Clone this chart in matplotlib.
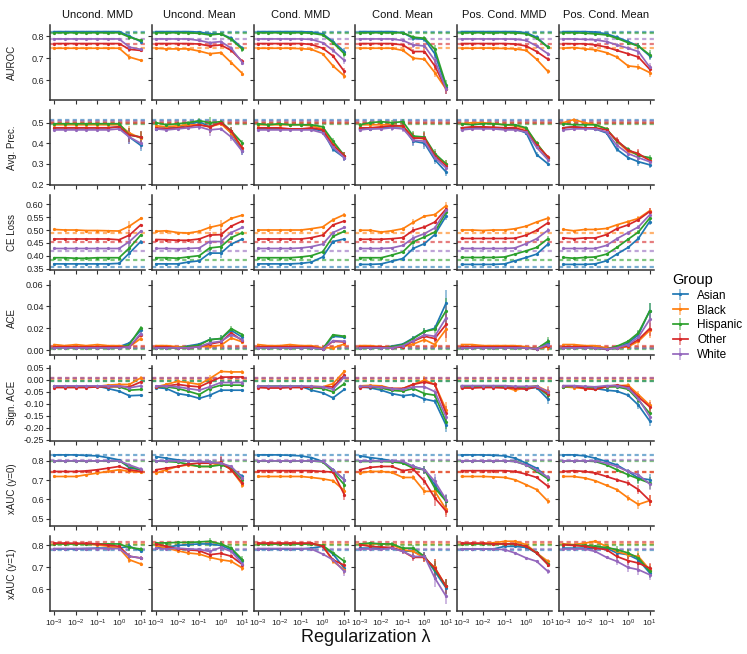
import matplotlib
matplotlib.use("Agg")
import matplotlib.pyplot as plt
from matplotlib.colors import to_rgba

plt.rcParams['font.family'] = ['Liberation Sans', 'DejaVu Sans']
plt.rcParams['mathtext.fontset'] = 'custom'
plt.rcParams['mathtext.rm'] = 'Liberation Sans'
plt.rcParams['mathtext.it'] = 'Liberation Sans:italic'

# ---------------- data ----------------
LAMBDAS = [0.001, 0.003, 0.01, 0.03, 0.1, 0.3, 1, 3, 10]
METHODS = ['Uncond. MMD', 'Uncond. Mean', 'Cond. MMD', 'Cond. Mean',
           'Pos. Cond. MMD', 'Pos. Cond. Mean']
GROUPS = ['Asian', 'Black', 'Hispanic', 'Other', 'White']
METRICS = ['AUROC', 'Avg. Prec.', 'CE Loss', 'ACE', 'Sign. ACE',
           'xAUC (y=0)', 'xAUC (y=1)']

# AUROC
AUROC_ASIAN = [
    [0.820, 0.820, 0.820, 0.820, 0.820, 0.820, 0.820, 0.800, 0.775],
    [0.820, 0.820, 0.820, 0.820, 0.818, 0.810, 0.810, 0.790, 0.745],
    [0.820, 0.820, 0.820, 0.820, 0.820, 0.818, 0.810, 0.775, 0.730],
    [0.820, 0.820, 0.820, 0.820, 0.815, 0.790, 0.785, 0.720, 0.570],
    [0.820, 0.820, 0.820, 0.820, 0.820, 0.820, 0.815, 0.795, 0.750],
    [0.820, 0.820, 0.820, 0.818, 0.810, 0.795, 0.775, 0.755, 0.710]]
AUROC_BLACK = [
    [0.745, 0.745, 0.745, 0.745, 0.745, 0.745, 0.745, 0.705, 0.690],
    [0.745, 0.742, 0.742, 0.742, 0.732, 0.720, 0.725, 0.680, 0.630],
    [0.745, 0.745, 0.745, 0.745, 0.743, 0.740, 0.720, 0.665, 0.620],
    [0.745, 0.745, 0.745, 0.745, 0.735, 0.700, 0.695, 0.635, 0.560],
    [0.745, 0.745, 0.746, 0.745, 0.744, 0.742, 0.735, 0.695, 0.640],
    [0.745, 0.748, 0.742, 0.738, 0.725, 0.705, 0.665, 0.660, 0.635]]
AUROC_HISP = [
    [0.815, 0.815, 0.815, 0.815, 0.815, 0.815, 0.815, 0.795, 0.780],
    [0.815, 0.815, 0.815, 0.815, 0.812, 0.805, 0.810, 0.785, 0.740],
    [0.815, 0.815, 0.815, 0.815, 0.815, 0.813, 0.805, 0.770, 0.720],
    [0.815, 0.815, 0.815, 0.815, 0.815, 0.795, 0.790, 0.740, 0.580],
    [0.815, 0.815, 0.815, 0.815, 0.815, 0.815, 0.810, 0.790, 0.750],
    [0.815, 0.815, 0.813, 0.810, 0.805, 0.790, 0.770, 0.755, 0.715]]
AUROC_OTHER = [
    [0.766, 0.766, 0.766, 0.766, 0.766, 0.766, 0.766, 0.740, 0.735],
    [0.766, 0.766, 0.766, 0.766, 0.764, 0.755, 0.760, 0.735, 0.685],
    [0.766, 0.766, 0.766, 0.766, 0.766, 0.762, 0.745, 0.710, 0.640],
    [0.766, 0.766, 0.766, 0.766, 0.760, 0.730, 0.730, 0.665, 0.560],
    [0.766, 0.766, 0.766, 0.766, 0.766, 0.764, 0.755, 0.730, 0.695],
    [0.766, 0.765, 0.765, 0.760, 0.750, 0.735, 0.720, 0.705, 0.650]]
AUROC_WHITE = [
    [0.787, 0.787, 0.787, 0.787, 0.787, 0.787, 0.787, 0.750, 0.740],
    [0.787, 0.787, 0.787, 0.787, 0.780, 0.770, 0.775, 0.745, 0.680],
    [0.787, 0.787, 0.787, 0.787, 0.787, 0.785, 0.770, 0.735, 0.690],
    [0.787, 0.787, 0.787, 0.787, 0.780, 0.760, 0.755, 0.690, 0.560],
    [0.787, 0.787, 0.787, 0.787, 0.787, 0.786, 0.780, 0.755, 0.720],
    [0.787, 0.787, 0.785, 0.783, 0.775, 0.760, 0.745, 0.730, 0.660]]
AUROC_ERR = [
    [0.002, 0.002, 0.002, 0.002, 0.002, 0.002, 0.003, 0.012, 0.008],
    [0.002, 0.002, 0.002, 0.002, 0.004, 0.008, 0.006, 0.010, 0.012],
    [0.002, 0.002, 0.002, 0.002, 0.002, 0.003, 0.005, 0.010, 0.015],
    [0.002, 0.002, 0.002, 0.003, 0.005, 0.012, 0.010, 0.020, 0.020],
    [0.002, 0.002, 0.002, 0.002, 0.002, 0.003, 0.004, 0.008, 0.010],
    [0.002, 0.002, 0.002, 0.003, 0.005, 0.008, 0.010, 0.015, 0.020]]
AUROC_REF = [0.820, 0.745, 0.815, 0.766, 0.787]

# Average precision
AP_ASIAN = [
    [0.475, 0.475, 0.475, 0.475, 0.475, 0.475, 0.480, 0.430, 0.390],
    [0.470, 0.475, 0.475, 0.490, 0.505, 0.480, 0.500, 0.450, 0.360],
    [0.475, 0.470, 0.470, 0.470, 0.470, 0.470, 0.460, 0.370, 0.330],
    [0.470, 0.470, 0.475, 0.480, 0.480, 0.410, 0.400, 0.320, 0.260],
    [0.475, 0.475, 0.475, 0.475, 0.475, 0.470, 0.450, 0.345, 0.300],
    [0.475, 0.480, 0.475, 0.470, 0.450, 0.370, 0.330, 0.310, 0.295]]
AP_BLACK = [
    [0.490, 0.490, 0.490, 0.490, 0.490, 0.490, 0.490, 0.450, 0.425],
    [0.485, 0.480, 0.485, 0.490, 0.490, 0.480, 0.495, 0.450, 0.375],
    [0.490, 0.490, 0.490, 0.490, 0.490, 0.485, 0.470, 0.400, 0.340],
    [0.490, 0.490, 0.490, 0.490, 0.480, 0.430, 0.420, 0.340, 0.300],
    [0.495, 0.500, 0.500, 0.495, 0.490, 0.485, 0.470, 0.400, 0.330],
    [0.500, 0.515, 0.500, 0.490, 0.470, 0.410, 0.360, 0.345, 0.320]]
AP_HISP = [
    [0.495, 0.495, 0.495, 0.495, 0.495, 0.495, 0.495, 0.440, 0.430],
    [0.500, 0.490, 0.495, 0.500, 0.510, 0.500, 0.505, 0.460, 0.400],
    [0.495, 0.490, 0.495, 0.490, 0.490, 0.490, 0.480, 0.410, 0.340],
    [0.490, 0.500, 0.505, 0.500, 0.505, 0.435, 0.430, 0.350, 0.300],
    [0.495, 0.490, 0.495, 0.495, 0.490, 0.490, 0.475, 0.400, 0.330],
    [0.495, 0.490, 0.490, 0.490, 0.470, 0.410, 0.370, 0.340, 0.330]]
AP_OTHER = [
    [0.475, 0.475, 0.475, 0.475, 0.475, 0.475, 0.480, 0.440, 0.430],
    [0.475, 0.470, 0.475, 0.480, 0.490, 0.480, 0.500, 0.460, 0.375],
    [0.475, 0.475, 0.475, 0.470, 0.470, 0.475, 0.465, 0.390, 0.340],
    [0.475, 0.475, 0.480, 0.485, 0.485, 0.425, 0.425, 0.340, 0.290],
    [0.475, 0.480, 0.480, 0.478, 0.475, 0.475, 0.460, 0.390, 0.335],
    [0.475, 0.480, 0.475, 0.475, 0.465, 0.415, 0.365, 0.350, 0.315]]
AP_WHITE = [
    [0.465, 0.465, 0.465, 0.465, 0.465, 0.465, 0.470, 0.430, 0.400],
    [0.470, 0.465, 0.470, 0.475, 0.480, 0.465, 0.470, 0.430, 0.360],
    [0.465, 0.465, 0.465, 0.465, 0.465, 0.465, 0.450, 0.380, 0.330],
    [0.465, 0.470, 0.470, 0.475, 0.470, 0.415, 0.410, 0.330, 0.280],
    [0.465, 0.470, 0.470, 0.470, 0.465, 0.465, 0.455, 0.380, 0.320],
    [0.465, 0.470, 0.470, 0.470, 0.455, 0.390, 0.350, 0.330, 0.310]]
AP_ERR = [
    [0.005, 0.005, 0.005, 0.005, 0.005, 0.005, 0.008, 0.035, 0.030],
    [0.008, 0.008, 0.008, 0.010, 0.015, 0.030, 0.010, 0.020, 0.015],
    [0.005, 0.008, 0.005, 0.005, 0.005, 0.005, 0.010, 0.015, 0.015],
    [0.008, 0.008, 0.010, 0.015, 0.015, 0.025, 0.030, 0.020, 0.020],
    [0.005, 0.005, 0.005, 0.005, 0.005, 0.005, 0.010, 0.010, 0.010],
    [0.005, 0.008, 0.005, 0.005, 0.010, 0.015, 0.010, 0.020, 0.015]]
AP_REF = [0.515, 0.505, 0.495, 0.500, 0.510]

# Cross-entropy loss
CE_ASIAN = [
    [0.368, 0.368, 0.368, 0.368, 0.368, 0.368, 0.370, 0.410, 0.455],
    [0.368, 0.368, 0.368, 0.375, 0.380, 0.410, 0.410, 0.445, 0.465],
    [0.368, 0.368, 0.368, 0.368, 0.370, 0.375, 0.395, 0.455, 0.465],
    [0.366, 0.366, 0.368, 0.378, 0.389, 0.428, 0.447, 0.482, 0.554],
    [0.366, 0.366, 0.366, 0.366, 0.368, 0.380, 0.393, 0.406, 0.445],
    [0.366, 0.366, 0.366, 0.368, 0.380, 0.406, 0.432, 0.467, 0.533]]
CE_BLACK = [
    [0.502, 0.500, 0.500, 0.498, 0.498, 0.497, 0.496, 0.515, 0.545],
    [0.495, 0.497, 0.490, 0.488, 0.495, 0.510, 0.520, 0.545, 0.558],
    [0.500, 0.500, 0.500, 0.500, 0.500, 0.505, 0.512, 0.540, 0.560],
    [0.499, 0.499, 0.492, 0.497, 0.505, 0.530, 0.554, 0.560, 0.595],
    [0.500, 0.500, 0.498, 0.500, 0.500, 0.505, 0.515, 0.531, 0.546],
    [0.502, 0.497, 0.502, 0.502, 0.506, 0.520, 0.533, 0.545, 0.575]]
CE_HISP = [
    [0.392, 0.392, 0.390, 0.390, 0.392, 0.392, 0.392, 0.430, 0.480],
    [0.392, 0.392, 0.390, 0.395, 0.400, 0.430, 0.435, 0.470, 0.490],
    [0.392, 0.392, 0.392, 0.392, 0.395, 0.400, 0.415, 0.475, 0.495],
    [0.392, 0.392, 0.392, 0.402, 0.415, 0.454, 0.473, 0.492, 0.569],
    [0.393, 0.393, 0.393, 0.393, 0.395, 0.406, 0.419, 0.432, 0.466],
    [0.393, 0.390, 0.393, 0.395, 0.406, 0.432, 0.464, 0.492, 0.546]]
CE_OTHER = [
    [0.465, 0.465, 0.465, 0.465, 0.465, 0.465, 0.462, 0.480, 0.520],
    [0.463, 0.462, 0.460, 0.460, 0.465, 0.480, 0.482, 0.515, 0.535],
    [0.465, 0.465, 0.465, 0.465, 0.465, 0.470, 0.480, 0.520, 0.535],
    [0.464, 0.464, 0.464, 0.466, 0.470, 0.499, 0.512, 0.531, 0.582],
    [0.467, 0.467, 0.467, 0.467, 0.467, 0.468, 0.480, 0.499, 0.528],
    [0.469, 0.466, 0.469, 0.469, 0.482, 0.505, 0.520, 0.540, 0.572]]
CE_WHITE = [
    [0.428, 0.428, 0.428, 0.428, 0.428, 0.428, 0.428, 0.455, 0.495],
    [0.428, 0.428, 0.427, 0.428, 0.430, 0.455, 0.455, 0.490, 0.510],
    [0.428, 0.428, 0.428, 0.428, 0.430, 0.435, 0.445, 0.490, 0.510],
    [0.428, 0.428, 0.428, 0.430, 0.440, 0.469, 0.486, 0.508, 0.576],
    [0.428, 0.428, 0.428, 0.428, 0.428, 0.430, 0.447, 0.466, 0.499],
    [0.428, 0.428, 0.428, 0.428, 0.440, 0.466, 0.490, 0.512, 0.559]]
CE_ERR = [
    [0.002, 0.002, 0.002, 0.002, 0.002, 0.002, 0.003, 0.020, 0.005],
    [0.002, 0.002, 0.002, 0.002, 0.003, 0.012, 0.020, 0.005, 0.005],
    [0.002, 0.002, 0.002, 0.002, 0.002, 0.002, 0.003, 0.005, 0.005],
    [0.002, 0.002, 0.002, 0.003, 0.005, 0.012, 0.006, 0.006, 0.015],
    [0.002, 0.002, 0.002, 0.002, 0.002, 0.002, 0.003, 0.004, 0.010],
    [0.002, 0.002, 0.002, 0.002, 0.003, 0.005, 0.005, 0.008, 0.012]]
CE_REF = [0.355, 0.490, 0.385, 0.455, 0.420]

# ACE
ACE_ASIAN = [
    [0.003, 0.003, 0.003, 0.003, 0.003, 0.003, 0.003, 0.0065, 0.018],
    [0.002, 0.002, 0.002, 0.0037, 0.0055, 0.0095, 0.0105, 0.018, 0.0117],
    [0.003, 0.003, 0.003, 0.003, 0.002, 0.002, 0.001, 0.0126, 0.0117],
    [0.002, 0.002, 0.002, 0.0035, 0.0055, 0.011, 0.017, 0.020, 0.043],
    [0.003, 0.003, 0.003, 0.003, 0.003, 0.003, 0.002, 0.001, 0.006],
    [0.003, 0.003, 0.003, 0.002, 0.0006, 0.002, 0.0065, 0.014, 0.036]]
ACE_BLACK = [
    [0.005, 0.004, 0.005, 0.004, 0.005, 0.004, 0.004, 0.003, 0.0105],
    [0.004, 0.004, 0.003, 0.003, 0.003, 0.0034, 0.0043, 0.011, 0.0074],
    [0.005, 0.004, 0.004, 0.005, 0.004, 0.004, 0.002, 0.002, 0.0055],
    [0.004, 0.004, 0.003, 0.003, 0.003, 0.0055, 0.0095, 0.005, 0.019],
    [0.005, 0.005, 0.004, 0.004, 0.004, 0.004, 0.003, 0.001, 0.003],
    [0.005, 0.005, 0.004, 0.004, 0.002, 0.002, 0.003, 0.008, 0.018]]
ACE_HISP = [
    [0.002, 0.002, 0.002, 0.002, 0.002, 0.002, 0.002, 0.005, 0.0203],
    [0.002, 0.002, 0.002, 0.003, 0.0045, 0.0095, 0.0105, 0.0197, 0.014],
    [0.002, 0.002, 0.002, 0.002, 0.002, 0.002, 0.001, 0.014, 0.0126],
    [0.002, 0.002, 0.002, 0.003, 0.005, 0.0105, 0.017, 0.019, 0.036],
    [0.002, 0.002, 0.002, 0.002, 0.002, 0.002, 0.002, 0.001, 0.008],
    [0.002, 0.002, 0.002, 0.002, 0.001, 0.0034, 0.008, 0.0157, 0.0357]]
ACE_OTHER = [
    [0.003, 0.003, 0.003, 0.003, 0.003, 0.003, 0.003, 0.003, 0.014],
    [0.003, 0.003, 0.002, 0.002, 0.003, 0.0055, 0.0074, 0.0157, 0.0086],
    [0.003, 0.003, 0.003, 0.003, 0.003, 0.003, 0.001, 0.008, 0.0074],
    [0.003, 0.003, 0.003, 0.002, 0.003, 0.008, 0.0126, 0.0105, 0.0234],
    [0.003, 0.003, 0.003, 0.003, 0.003, 0.003, 0.002, 0.001, 0.004],
    [0.003, 0.003, 0.003, 0.002, 0.001, 0.002, 0.004, 0.0095, 0.0197]]
ACE_WHITE = [
    [0.002, 0.002, 0.002, 0.002, 0.002, 0.002, 0.002, 0.003, 0.015],
    [0.002, 0.002, 0.002, 0.002, 0.003, 0.0065, 0.008, 0.014, 0.0095],
    [0.002, 0.002, 0.002, 0.002, 0.002, 0.002, 0.001, 0.0086, 0.008],
    [0.002, 0.002, 0.002, 0.002, 0.004, 0.0086, 0.014, 0.0126, 0.0295],
    [0.002, 0.002, 0.002, 0.002, 0.002, 0.002, 0.002, 0.001, 0.005],
    [0.002, 0.002, 0.002, 0.002, 0.001, 0.002, 0.005, 0.0117, 0.028]]
ACE_ERR = [
    [0.0005, 0.0005, 0.0005, 0.0005, 0.0005, 0.0005, 0.0005, 0.0010, 0.0020],
    [0.0005, 0.0005, 0.0005, 0.0005, 0.0010, 0.0020, 0.0035, 0.0020, 0.0020],
    [0.0005, 0.0005, 0.0005, 0.0005, 0.0005, 0.0005, 0.0005, 0.0010, 0.0010],
    [0.0005, 0.0005, 0.0005, 0.0005, 0.0010, 0.0020, 0.0030, 0.0030, 0.0120],
    [0.0005, 0.0005, 0.0005, 0.0005, 0.0005, 0.0005, 0.0005, 0.0010, 0.0040],
    [0.0005, 0.0005, 0.0005, 0.0005, 0.0005, 0.0010, 0.0010, 0.0030, 0.0070]]
ACE_REF = [0.0015, 0.0030, 0.0010, 0.0040, 0.0020]

# Signed ACE
SACE_ASIAN = [
    [-0.026, -0.026, -0.027, -0.027, -0.027, -0.037, -0.048, -0.067, -0.065],
    [-0.033, -0.037, -0.058, -0.065, -0.078, -0.065, -0.044, -0.044, -0.044],
    [-0.028, -0.028, -0.028, -0.028, -0.028, -0.044, -0.055, -0.076, -0.041],
    [-0.030, -0.034, -0.044, -0.058, -0.067, -0.062, -0.081, -0.090, -0.190],
    [-0.028, -0.028, -0.030, -0.030, -0.030, -0.033, -0.037, -0.033, -0.081],
    [-0.030, -0.030, -0.033, -0.037, -0.044, -0.048, -0.065, -0.106, -0.172]]
SACE_BLACK = [
    [-0.030, -0.030, -0.030, -0.030, -0.028, -0.023, -0.020, -0.020, 0.007],
    [-0.030, -0.020, -0.007, -0.012, -0.020, 0.004, 0.034, 0.032, 0.032],
    [-0.030, -0.030, -0.030, -0.030, -0.030, -0.028, -0.030, -0.017, 0.034],
    [-0.026, -0.024, -0.026, -0.037, -0.037, -0.020, -0.002, -0.020, -0.125],
    [-0.030, -0.030, -0.030, -0.030, -0.032, -0.044, -0.033, -0.026, -0.048],
    [-0.030, -0.033, -0.037, -0.040, -0.030, -0.026, -0.023, -0.062, -0.106]]
SACE_HISP = [
    [-0.028, -0.028, -0.028, -0.028, -0.028, -0.028, -0.030, -0.044, -0.041],
    [-0.030, -0.030, -0.037, -0.048, -0.062, -0.037, -0.023, -0.023, -0.023],
    [-0.028, -0.028, -0.028, -0.028, -0.028, -0.033, -0.037, -0.051, -0.017],
    [-0.030, -0.030, -0.035, -0.045, -0.048, -0.037, -0.058, -0.065, -0.175],
    [-0.028, -0.028, -0.027, -0.027, -0.028, -0.030, -0.030, -0.028, -0.065],
    [-0.030, -0.028, -0.030, -0.035, -0.030, -0.030, -0.040, -0.085, -0.140]]
SACE_OTHER = [
    [-0.033, -0.033, -0.033, -0.033, -0.030, -0.030, -0.028, -0.030, -0.010],
    [-0.030, -0.026, -0.020, -0.026, -0.030, -0.010, 0.010, 0.011, 0.011],
    [-0.033, -0.035, -0.035, -0.033, -0.033, -0.030, -0.030, -0.030, 0.018],
    [-0.033, -0.030, -0.030, -0.037, -0.037, -0.020, -0.010, -0.020, -0.140],
    [-0.035, -0.035, -0.033, -0.033, -0.035, -0.035, -0.040, -0.030, -0.058],
    [-0.026, -0.026, -0.037, -0.041, -0.028, -0.023, -0.030, -0.072, -0.113]]
SACE_WHITE = [
    [-0.026, -0.026, -0.026, -0.026, -0.026, -0.026, -0.026, -0.034, -0.026],
    [-0.026, -0.027, -0.030, -0.037, -0.044, -0.030, -0.012, -0.012, -0.012],
    [-0.026, -0.028, -0.028, -0.028, -0.026, -0.028, -0.030, -0.040, 0.011],
    [-0.028, -0.028, -0.032, -0.037, -0.041, -0.030, -0.030, -0.050, -0.155],
    [-0.025, -0.025, -0.025, -0.025, -0.025, -0.028, -0.028, -0.028, -0.050],
    [-0.025, -0.025, -0.028, -0.030, -0.025, -0.025, -0.035, -0.079, -0.154]]
SACE_ERR = [
    [0.003, 0.003, 0.003, 0.003, 0.003, 0.003, 0.004, 0.008, 0.006],
    [0.004, 0.004, 0.005, 0.006, 0.008, 0.015, 0.008, 0.006, 0.006],
    [0.003, 0.003, 0.003, 0.003, 0.003, 0.003, 0.005, 0.008, 0.008],
    [0.003, 0.003, 0.004, 0.005, 0.006, 0.008, 0.015, 0.010, 0.030],
    [0.003, 0.003, 0.003, 0.003, 0.003, 0.003, 0.004, 0.005, 0.020],
    [0.003, 0.003, 0.004, 0.004, 0.004, 0.005, 0.008, 0.015, 0.020]]
SACE_REF = [-0.007, 0.002, -0.006, 0.008, 0.007]

# xAUC (y=0)
X0_ASIAN = [
    [0.831, 0.831, 0.831, 0.828, 0.826, 0.817, 0.805, 0.764, 0.754],
    [0.822, 0.814, 0.805, 0.800, 0.797, 0.793, 0.788, 0.762, 0.719],
    [0.831, 0.831, 0.831, 0.829, 0.826, 0.817, 0.797, 0.754, 0.702],
    [0.826, 0.817, 0.810, 0.800, 0.793, 0.771, 0.754, 0.676, 0.591],
    [0.831, 0.831, 0.831, 0.829, 0.826, 0.814, 0.788, 0.762, 0.711],
    [0.831, 0.831, 0.826, 0.814, 0.797, 0.779, 0.745, 0.711, 0.702]]
X0_BLACK = [
    [0.719, 0.719, 0.719, 0.728, 0.737, 0.745, 0.754, 0.745, 0.742],
    [0.737, 0.754, 0.771, 0.779, 0.771, 0.771, 0.788, 0.754, 0.676],
    [0.719, 0.719, 0.719, 0.719, 0.719, 0.714, 0.707, 0.697, 0.646],
    [0.737, 0.745, 0.745, 0.740, 0.714, 0.714, 0.642, 0.642, 0.548],
    [0.719, 0.719, 0.719, 0.717, 0.714, 0.702, 0.676, 0.651, 0.591],
    [0.719, 0.719, 0.711, 0.697, 0.673, 0.651, 0.608, 0.574, 0.594]]
X0_HISP = [
    [0.800, 0.800, 0.800, 0.800, 0.800, 0.800, 0.800, 0.771, 0.754],
    [0.800, 0.797, 0.793, 0.783, 0.771, 0.771, 0.779, 0.762, 0.702],
    [0.800, 0.800, 0.800, 0.800, 0.800, 0.800, 0.795, 0.745, 0.676],
    [0.797, 0.797, 0.797, 0.795, 0.788, 0.762, 0.754, 0.659, 0.591],
    [0.800, 0.800, 0.800, 0.800, 0.800, 0.797, 0.779, 0.745, 0.707],
    [0.800, 0.800, 0.800, 0.797, 0.779, 0.754, 0.728, 0.707, 0.685]]
X0_OTHER = [
    [0.745, 0.745, 0.745, 0.748, 0.754, 0.762, 0.771, 0.754, 0.745],
    [0.754, 0.762, 0.771, 0.783, 0.788, 0.788, 0.793, 0.754, 0.685],
    [0.749, 0.749, 0.749, 0.749, 0.749, 0.749, 0.745, 0.742, 0.625],
    [0.754, 0.766, 0.771, 0.771, 0.749, 0.757, 0.694, 0.608, 0.539],
    [0.749, 0.749, 0.749, 0.749, 0.749, 0.745, 0.731, 0.714, 0.668],
    [0.745, 0.749, 0.745, 0.737, 0.719, 0.702, 0.685, 0.651, 0.594]]
X0_WHITE = [
    [0.800, 0.800, 0.800, 0.800, 0.800, 0.800, 0.800, 0.779, 0.758],
    [0.800, 0.800, 0.800, 0.800, 0.797, 0.793, 0.788, 0.771, 0.711],
    [0.800, 0.800, 0.800, 0.800, 0.800, 0.800, 0.797, 0.754, 0.702],
    [0.800, 0.800, 0.800, 0.800, 0.797, 0.771, 0.754, 0.694, 0.599],
    [0.800, 0.800, 0.800, 0.800, 0.800, 0.797, 0.779, 0.754, 0.714],
    [0.800, 0.800, 0.800, 0.800, 0.788, 0.771, 0.745, 0.728, 0.680]]
X0_ERR = [
    [0.003, 0.003, 0.003, 0.003, 0.003, 0.004, 0.005, 0.012, 0.010],
    [0.004, 0.004, 0.005, 0.006, 0.008, 0.010, 0.030, 0.010, 0.015],
    [0.003, 0.003, 0.003, 0.003, 0.003, 0.004, 0.005, 0.010, 0.030],
    [0.004, 0.005, 0.006, 0.008, 0.010, 0.015, 0.020, 0.040, 0.030],
    [0.003, 0.003, 0.003, 0.003, 0.003, 0.004, 0.005, 0.008, 0.015],
    [0.003, 0.003, 0.004, 0.005, 0.006, 0.010, 0.015, 0.025, 0.030]]
X0_REF = [0.830, 0.740, 0.800, 0.742, 0.802]

# xAUC (y=1)
X1_ASIAN = [
    [0.782, 0.782, 0.782, 0.784, 0.786, 0.786, 0.786, 0.794, 0.774],
    [0.786, 0.790, 0.798, 0.802, 0.805, 0.805, 0.798, 0.779, 0.726],
    [0.782, 0.782, 0.782, 0.782, 0.782, 0.786, 0.794, 0.759, 0.695],
    [0.786, 0.786, 0.786, 0.786, 0.774, 0.771, 0.748, 0.680, 0.605],
    [0.782, 0.782, 0.782, 0.782, 0.794, 0.794, 0.789, 0.764, 0.714],
    [0.786, 0.786, 0.786, 0.786, 0.786, 0.764, 0.756, 0.733, 0.673]]
X1_BLACK = [
    [0.805, 0.805, 0.805, 0.805, 0.800, 0.795, 0.786, 0.733, 0.714],
    [0.798, 0.786, 0.774, 0.764, 0.759, 0.744, 0.733, 0.726, 0.695],
    [0.805, 0.805, 0.805, 0.805, 0.805, 0.805, 0.798, 0.726, 0.688],
    [0.805, 0.805, 0.805, 0.802, 0.779, 0.771, 0.741, 0.698, 0.612],
    [0.805, 0.805, 0.808, 0.810, 0.817, 0.817, 0.802, 0.764, 0.726],
    [0.805, 0.802, 0.809, 0.817, 0.794, 0.771, 0.756, 0.748, 0.688]]
X1_HISP = [
    [0.805, 0.805, 0.805, 0.805, 0.805, 0.805, 0.805, 0.789, 0.782],
    [0.809, 0.810, 0.812, 0.812, 0.814, 0.817, 0.805, 0.786, 0.733],
    [0.805, 0.805, 0.805, 0.805, 0.805, 0.805, 0.798, 0.764, 0.726],
    [0.805, 0.809, 0.805, 0.805, 0.786, 0.786, 0.748, 0.688, 0.612],
    [0.805, 0.805, 0.805, 0.805, 0.805, 0.805, 0.794, 0.764, 0.714],
    [0.802, 0.800, 0.798, 0.794, 0.789, 0.779, 0.764, 0.741, 0.680]]
X1_OTHER = [
    [0.809, 0.809, 0.808, 0.808, 0.805, 0.800, 0.794, 0.749, 0.741],
    [0.805, 0.794, 0.783, 0.779, 0.774, 0.756, 0.762, 0.749, 0.711],
    [0.809, 0.809, 0.809, 0.809, 0.809, 0.809, 0.794, 0.733, 0.708],
    [0.802, 0.794, 0.791, 0.789, 0.771, 0.744, 0.744, 0.695, 0.612],
    [0.809, 0.809, 0.808, 0.805, 0.805, 0.805, 0.794, 0.764, 0.711],
    [0.802, 0.798, 0.794, 0.786, 0.779, 0.748, 0.729, 0.718, 0.695]]
X1_WHITE = [
    [0.784, 0.784, 0.784, 0.784, 0.784, 0.784, 0.784, 0.749, 0.741],
    [0.786, 0.782, 0.786, 0.782, 0.780, 0.771, 0.789, 0.771, 0.714],
    [0.784, 0.784, 0.784, 0.784, 0.784, 0.782, 0.759, 0.733, 0.680],
    [0.782, 0.782, 0.780, 0.786, 0.771, 0.748, 0.748, 0.650, 0.567],
    [0.782, 0.782, 0.782, 0.782, 0.779, 0.764, 0.741, 0.726, 0.680],
    [0.782, 0.782, 0.782, 0.771, 0.744, 0.726, 0.698, 0.688, 0.665]]
X1_ERR = [
    [0.003, 0.003, 0.003, 0.003, 0.003, 0.004, 0.005, 0.015, 0.010],
    [0.004, 0.004, 0.005, 0.006, 0.008, 0.015, 0.015, 0.010, 0.015],
    [0.003, 0.003, 0.003, 0.003, 0.003, 0.004, 0.005, 0.010, 0.020],
    [0.004, 0.005, 0.006, 0.008, 0.010, 0.015, 0.020, 0.040, 0.035],
    [0.003, 0.003, 0.003, 0.003, 0.003, 0.004, 0.005, 0.008, 0.012],
    [0.003, 0.003, 0.004, 0.005, 0.008, 0.015, 0.020, 0.025, 0.025]]
X1_REF = [0.778, 0.805, 0.800, 0.812, 0.783]

# ---------------- styling ----------------
COLORS = ['#1f77b4', '#ff7f0e', '#2ca02c', '#d62728', '#9467bd']
ROW_SERIES = [
    [AUROC_ASIAN, AUROC_BLACK, AUROC_HISP, AUROC_OTHER, AUROC_WHITE],
    [AP_ASIAN, AP_BLACK, AP_HISP, AP_OTHER, AP_WHITE],
    [CE_ASIAN, CE_BLACK, CE_HISP, CE_OTHER, CE_WHITE],
    [ACE_ASIAN, ACE_BLACK, ACE_HISP, ACE_OTHER, ACE_WHITE],
    [SACE_ASIAN, SACE_BLACK, SACE_HISP, SACE_OTHER, SACE_WHITE],
    [X0_ASIAN, X0_BLACK, X0_HISP, X0_OTHER, X0_WHITE],
    [X1_ASIAN, X1_BLACK, X1_HISP, X1_OTHER, X1_WHITE],
]
ROW_ERR = [AUROC_ERR, AP_ERR, CE_ERR, ACE_ERR, SACE_ERR, X0_ERR, X1_ERR]
ROW_REF = [AUROC_REF, AP_REF, CE_REF, ACE_REF, SACE_REF, X0_REF, X1_REF]
ROW_YTICKS = [
    ([0.6, 0.7, 0.8], ['0.6', '0.7', '0.8']),
    ([0.2, 0.3, 0.4, 0.5], ['0.2', '0.3', '0.4', '0.5']),
    ([0.35, 0.40, 0.45, 0.50, 0.55, 0.60], ['0.35', '0.40', '0.45', '0.50', '0.55', '0.60']),
    ([0.0, 0.02, 0.04, 0.06], ['0.00', '0.02', '0.04', '0.06']),
    ([-0.25, -0.20, -0.15, -0.10, -0.05, 0.0, 0.05],
     ['-0.25', '-0.20', '-0.15', '-0.10', '-0.05', '0.00', '0.05']),
    ([0.5, 0.6, 0.7, 0.8], ['0.5', '0.6', '0.7', '0.8']),
    ([0.6, 0.7, 0.8], ['0.6', '0.7', '0.8']),
]
ROW_YLIM = [(0.511, 0.85), (0.196, 0.561), (0.343, 0.635), (-0.005, 0.0637),
            (-0.254, 0.058), (0.463, 0.852), (0.50, 0.841)]

W, H = 747, 654
fig, axes = plt.subplots(7, 6, figsize=(W / 100, H / 100), dpi=100)
fig.subplots_adjust(left=50 / W, right=654 / W, top=1 - 25 / H, bottom=1 - 611 / H,
                    wspace=0.0716, hspace=0.136)

SPINE = '#333333'
legend_handles = None
for r in range(7):
    for c in range(6):
        ax = axes[r, c]
        ax.set_xscale('log')
        ax.set_xlim(10 ** -3.2, 10 ** 1.2)
        ax.set_ylim(*ROW_YLIM[r])
        # reference lines
        for g in range(5):
            ax.axhline(ROW_REF[r][g], color=COLORS[g], lw=1.6, alpha=0.6,
                       ls=(0, (1.9, 1.5)), zorder=1)
        handles = []
        for g in range(5):
            cont = ax.errorbar(LAMBDAS, ROW_SERIES[r][g][c], yerr=ROW_ERR[r][c],
                               color=COLORS[g], lw=1.25, marker='o', ms=1.3,
                               ecolor=to_rgba(COLORS[g], 0.5), elinewidth=1.3,
                               capsize=0, zorder=3)
            handles.append(cont)
        if legend_handles is None:
            legend_handles = handles
        for s in ['top', 'right']:
            ax.spines[s].set_visible(False)
        for s in ['left', 'bottom']:
            ax.spines[s].set_color(SPINE)
            ax.spines[s].set_linewidth(1.1)
        ax.tick_params(axis='both', which='major', length=3, width=0.8, color=SPINE,
                       labelsize=6.5, labelcolor='#222222', pad=1.5)
        ax.tick_params(axis='x', which='major', labelsize=6.0)
        ax.tick_params(axis='x', which='minor', bottom=False)
        ax.set_xticks([1e-3, 1e-2, 1e-1, 1e0, 1e1])
        if r == 6:
            ax.set_xticklabels([r'$10^{-3}$', r'$10^{-2}$', r'$10^{-1}$',
                                r'$10^{0}$', r'$10^{1}$'])
        else:
            ax.set_xticklabels([])
        ticks, labels = ROW_YTICKS[r]
        ax.set_yticks(ticks)
        if c == 0:
            ax.set_yticklabels(labels)
            ax.set_ylabel(METRICS[r], fontsize=7, color='#222222')
            ax.yaxis.set_label_coords(-0.35, 0.5)
        else:
            ax.set_yticklabels([])
        if r == 0:
            ax.set_title(METHODS[c], fontsize=8, pad=5, color='#111111')

fig.text(366 / W, 1 - 637 / H, 'Regularization λ', ha='center', va='center',
         fontsize=13, color='#111111')

leg = fig.legend(legend_handles, GROUPS, title='Group', loc='upper left',
                 bbox_to_anchor=(662 / W, 1 - 262 / H), frameon=False,
                 fontsize=8.5, title_fontsize=10.5, handlelength=1.3,
                 handletextpad=0.8, labelspacing=0.25, alignment='left')

fig.savefig('out.png', dpi=100)
